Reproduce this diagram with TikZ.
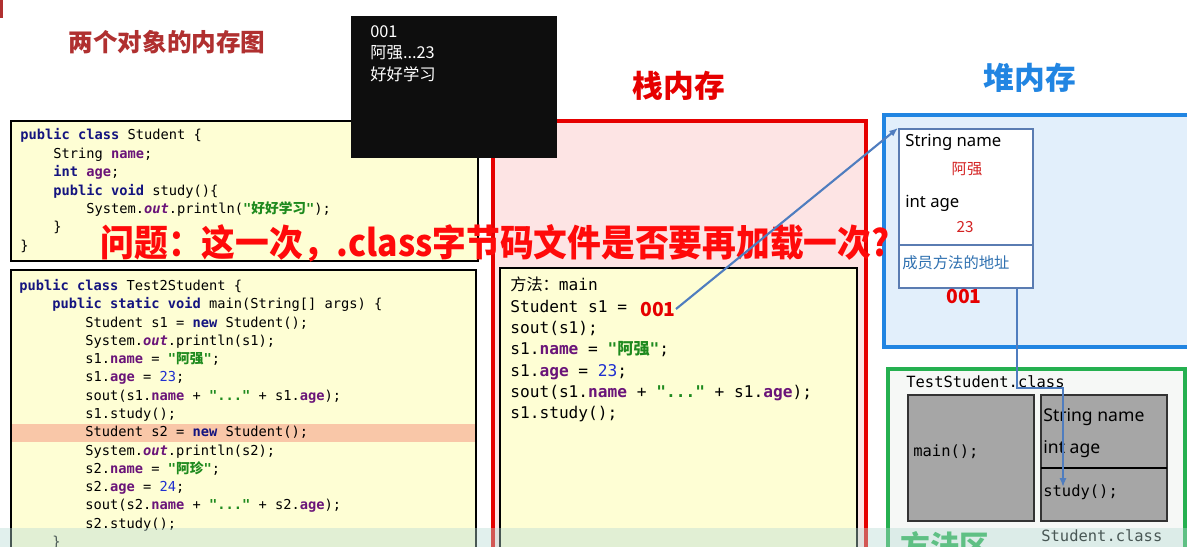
\documentclass[tikz,border=0pt]{standalone}
\usepackage{fontspec}
\setmainfont{Noto Sans}
\setmonofont{DejaVu Sans Mono}
\newfontfamily\cjk{Noto Sans CJK SC}
\usetikzlibrary{arrows.meta}

\definecolor{titlered}{HTML}{B03030}
\definecolor{codeyellow}{HTML}{FEFED4}
\definecolor{rowhl}{HTML}{F9C7A8}
\definecolor{jkeyword}{HTML}{14147F}
\definecolor{jfield}{HTML}{6A1479}
\definecolor{jstring}{HTML}{1E8A1E}
\definecolor{jnumber}{HTML}{1F2FD0}
\definecolor{stackred}{HTML}{E60000}
\definecolor{stackpink}{HTML}{FDE4E4}
\definecolor{heapblue}{HTML}{2185E2}
\definecolor{heapfill}{HTML}{E2EFFB}
\definecolor{objedge}{HTML}{5A7CB2}
\definecolor{refblue}{HTML}{4F7DBF}
\definecolor{memberblue}{HTML}{2E70B0}
\definecolor{valred}{HTML}{D42222}
\definecolor{areagreen}{HTML}{25B050}
\definecolor{areafill}{HTML}{F6F8F6}
\definecolor{slotgray}{HTML}{A6A6A6}
\definecolor{consoleblack}{HTML}{0E0E0E}
\definecolor{qred}{HTML}{FF0A0A}
\definecolor{bandteal}{HTML}{B6DAD4}

\newcommand{\jkw}[1]{\textcolor{jkeyword}{\bfseries #1}}
\newcommand{\jfd}[1]{\textcolor{jfield}{\bfseries #1}}
\newcommand{\jout}{\textcolor{jfield}{\bfseries\itshape out}}
\newcommand{\jstr}[1]{\textcolor{jstring}{\bfseries #1}}
\newcommand{\jnum}[1]{\textcolor{jnumber}{#1}}
\newcommand{\ind}{\phantom{xxxx}}
\newcommand{\zh}[1]{{\cjk #1}}

\tikzset{
  codebox/.style={draw=black, line width=0.6pt, fill=codeyellow},
  codesmall/.style={anchor=base west, inner sep=0pt, font=\ttfamily\fontsize{7.8}{9}\selectfont},
  codelarge/.style={anchor=base west, inner sep=0pt, font=\ttfamily\fontsize{9.2}{11}\selectfont},
  memtitle/.style={font=\cjk\bfseries\fontsize{17.5}{20}\selectfont},
  objtxt/.style={anchor=west, inner sep=0pt, font=\fontsize{9.5}{11}\selectfont},
  valtxt/.style={inner sep=0pt, text=valred, font=\cjk\fontsize{8.7}{10}\selectfont},
  addr/.style={inner sep=0pt, text=stackred, font=\cjk\bfseries\fontsize{11}{13}\selectfont},
  slot/.style={draw=black!80, line width=0.8pt, fill=slotgray},
  consoletxt/.style={anchor=west, inner sep=0pt, text=white, font=\cjk\fontsize{9.3}{11}\selectfont},
  refline/.style={draw=refblue, line width=1.2pt},
}

\begin{document}
\begin{tikzpicture}[x=0.02cm, y=-0.02cm]
\useasboundingbox (0,0) rectangle (1187,547);
\clip (0,0) rectangle (1187,547);
\fill[white] (0,0) rectangle (1187,547);

% title
\fill[titlered] (0,0) rectangle (3,18);
\node[font=\cjk\bfseries\fontsize{14}{16}\selectfont, text=titlered] (title) at (167,42) {两个对象的内存图};

% class Student
\draw[codebox] (11,121) rectangle (478,261);
\foreach \codeline [count=\i] in {
  {\jkw{public} \jkw{class} Student \{},
  {\ind String \jfd{name};},
  {\ind\jkw{int} \jfd{age};},
  {\ind\jkw{public} \jkw{void} study()\{},
  {\ind\ind System.\jout.println(\jstr{"\zh{好好学习}"});},
  {\ind\}},
  {\}}}
  \node[codesmall] (sa\i) at ({20},{140+18.4*(\i-1)}) {\codeline};

% class Test2Student
\draw[codebox] (11,270) rectangle (476,570);
\fill[rowhl] (12,423.5) rectangle (475,441.5);
\foreach \codeline [count=\i] in {
  {\jkw{public} \jkw{class} Test2Student \{},
  {\ind\jkw{public} \jkw{static} \jkw{void} main(String[] args) \{},
  {\ind\ind Student s1 = \jkw{new} Student();},
  {\ind\ind System.\jout.println(s1);},
  {\ind\ind s1.\jfd{name} = \jstr{"\zh{阿强}"};},
  {\ind\ind s1.\jfd{age} = \jnum{23};},
  {\ind\ind sout(s1.\jfd{name} + \jstr{"..."} + s1.\jfd{age});},
  {\ind\ind s1.study();},
  {\ind\ind Student s2 = \jkw{new} Student();},
  {\ind\ind System.\jout.println(s2);},
  {\ind\ind s2.\jfd{name} = \jstr{"\zh{阿珍}"};},
  {\ind\ind s2.\jfd{age} = \jnum{24};},
  {\ind\ind sout(s2.\jfd{name} + \jstr{"..."} + s2.\jfd{age});},
  {\ind\ind s2.study();},
  {\ind\}}}
  \node[codesmall] (tb\i) at ({19},{290.5+18.29*(\i-1)}) {\codeline};

% stack
\node[memtitle, text=stackred] (stacktitle) at (679,86) {栈内存};
\draw[draw=stackred, line width=1.8pt, fill=stackpink] (493,121) rectangle (866,570);
\draw[codebox] (500,268) rectangle (857,570);
\foreach \codeline [count=\i] in {
  {\zh{方法：}main},
  {Student s1 =},
  {sout(s1);},
  {s1.\jfd{name} = \jstr{"\zh{阿强}"};},
  {s1.\jfd{age} = \jnum{23};},
  {sout(s1.\jfd{name} + \jstr{"..."} + s1.\jfd{age});},
  {s1.study();}}
  \node[codelarge] (sc\i) at ({510},{291+21.3*(\i-1)}) {\codeline};
\node[addr] (s1val) at (658,309) {001};

% heap
\node[memtitle, text=heapblue] (heaptitle) at (1030,78) {堆内存};
\draw[draw=heapblue, line width=1.8pt, fill=heapfill] (884,115) rectangle (1200,347);
\node[draw=objedge, line width=1.1pt, fill=white, anchor=north west,
      minimum width=2.68cm, minimum height=3.18cm, inner sep=0pt] (obj) at (898,128) {};
\draw[draw=objedge, line width=1.1pt] (obj.west |- 0,245) -- (obj.east |- 0,245);
\node[objtxt] (fname) at (905,142) {String name};
\node[valtxt] (vname) at (967,169) {阿强};
\node[objtxt] (fage) at (905,203) {int age};
\node[valtxt] (vage) at (965,227) {23};
\node[anchor=west, inner sep=0pt, text=memberblue, font=\cjk\fontsize{8.7}{10}\selectfont] (member) at (902,263) {成员方法的地址};
\node[addr] (objaddr) at (964,296) {001};

% method area
\draw[draw=areagreen, line width=1.8pt, fill=areafill] (888,369) rectangle (1185,570);
\node[codelarge, anchor=west, font=\ttfamily\fontsize{8.8}{10}\selectfont] (testcls) at (906,382) {TestStudent.class};
\draw[slot] (908,395) rectangle (1034,521);
\node[codelarge, anchor=west, font=\ttfamily\fontsize{8.8}{10}\selectfont] (mainm) at (913,452) {main();};
\draw[slot] (1041,395) rectangle (1167,521);
\draw[black, line width=1.4pt] (1041,468) -- (1167,468);
\node[objtxt, font=\fontsize{10}{12}\selectfont] (sname) at (1043,417) {String name};
\node[objtxt, font=\fontsize{10}{12}\selectfont] (sage) at (1043,449) {int age};
\node[codelarge, anchor=west, font=\ttfamily\fontsize{8.8}{10}\selectfont] (studym) at (1043,492) {study();};
\node[codelarge, anchor=west, font=\ttfamily\fontsize{8.8}{10}\selectfont] (stucls) at (1041,536) {Student.class};
\node[font=\cjk\bfseries\fontsize{17}{20}\selectfont, text=areagreen] (areatitle) at (945,546) {方法区};

% console
\fill[consoleblack] (351,16) rectangle (557,158);
\node[consoletxt] (out1) at (370,32) {001};
\node[consoletxt] (out2) at (370,53) {阿强...23};
\node[consoletxt] (out3) at (370,74) {好好学习};

% question
\node[inner sep=0pt, text=qred, font=\cjk\bfseries\fontsize{21}{24}\selectfont] (question) at (495,243)
  {\scalebox{0.915}[1]{问题：这一次，.class字节码文件是否要再加载一次?}};

\fill[bandteal, opacity=0.4] (0,528) rectangle (1187,547);

% references
\coordinate (bend) at (1063,388);
\coordinate (studyin) at (1063,487);
\draw[refline, -{Latex[length=5pt, width=4pt]}] (s1val.east) -- (obj.north west);
\draw[refline, -{Latex[length=5pt, width=4pt]}] ([xshift=1.02cm]obj.south) |- (bend) -- (studyin);
\end{tikzpicture}
\end{document}
